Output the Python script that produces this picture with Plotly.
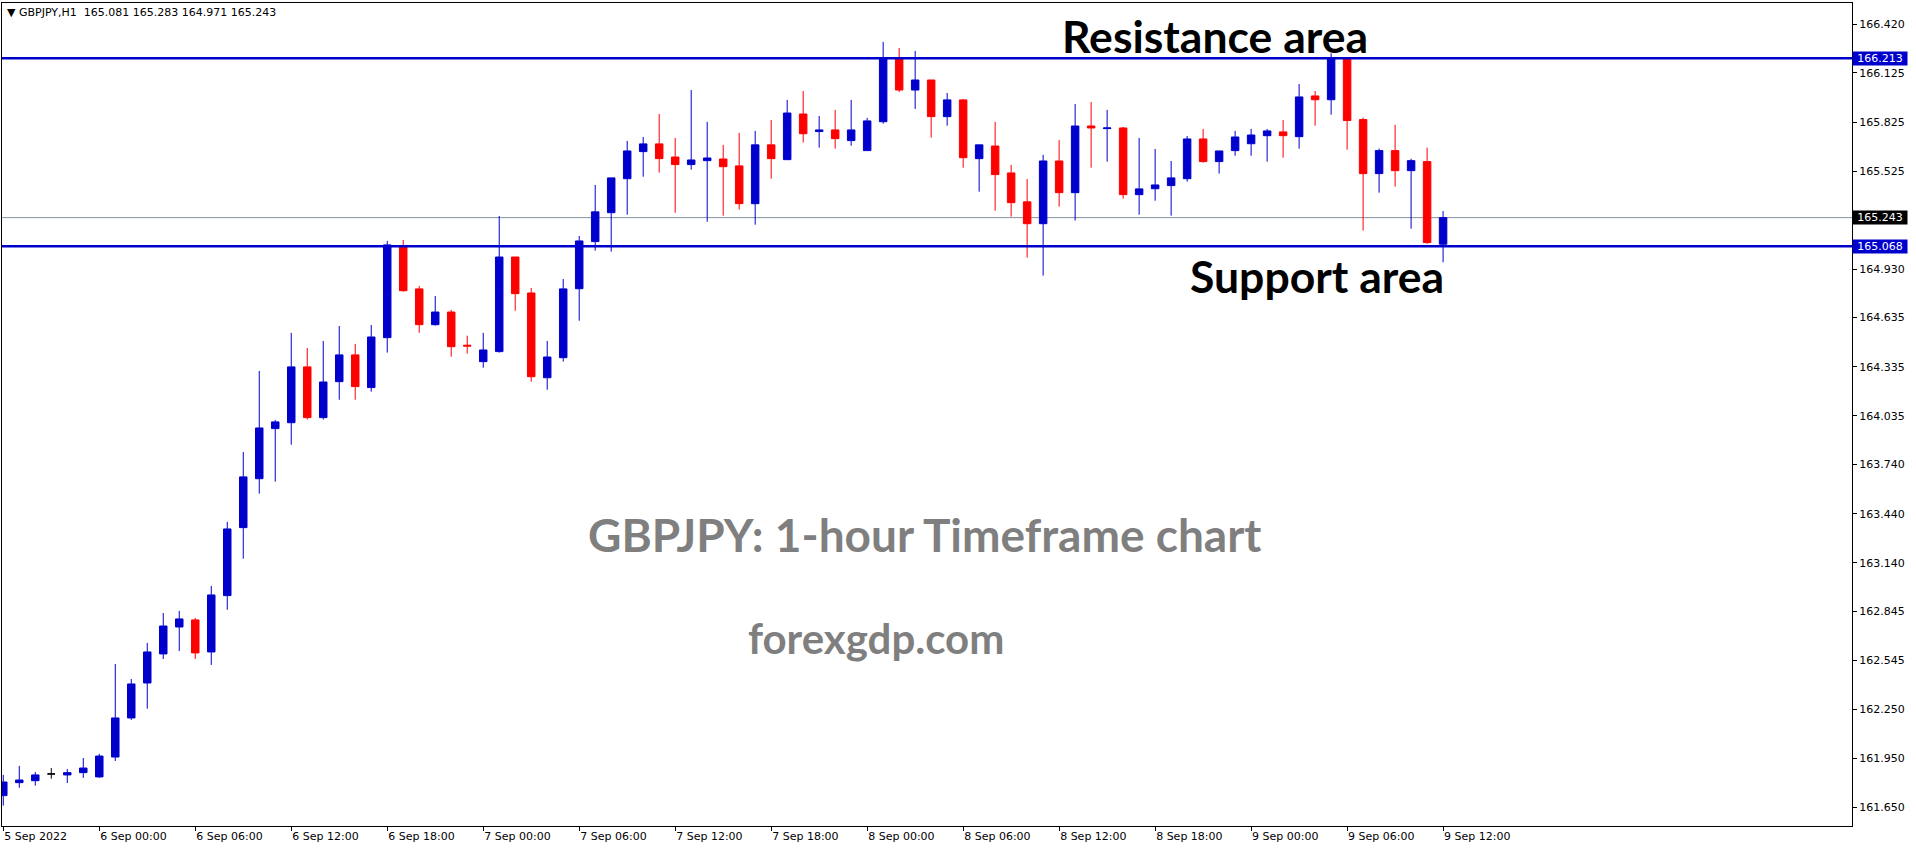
import pandas as pd
import plotly.graph_objects as go

symbol = "GBPJPY,H1"
times = pd.date_range("2022-09-05 18:00", periods=91, freq="h")

open_ = [161.723, 161.802, 161.814, 161.855, 161.849, 161.863, 161.837, 161.958, 162.196, 162.409,
         162.586, 162.750, 162.793, 162.598, 162.941, 163.355, 163.653, 163.958, 163.994, 164.334,
         164.025, 164.244, 164.407, 164.208, 164.512, 165.070, 164.809, 164.591, 164.668, 164.466,
         164.366, 164.427, 165.003, 164.784, 164.268, 164.390, 164.810, 165.097, 165.273, 165.480,
         165.645, 165.692, 165.612, 165.566, 165.590, 165.600, 165.558, 165.328, 165.686, 165.596,
         165.874, 165.767, 165.777, 165.712, 165.651, 165.827, 166.214, 166.020, 166.081, 165.858,
         165.960, 165.602, 165.679, 165.515, 165.339, 165.206, 165.588, 165.395, 165.801, 165.785,
         165.789, 165.383, 165.419, 165.438, 165.480, 165.722, 165.584, 165.651, 165.693, 165.742,
         165.765, 165.736, 165.984, 165.961, 166.214, 165.840, 165.511, 165.651, 165.529, 165.584,
         165.081]
high = [161.849, 161.904, 161.867, 161.891, 161.885, 161.952, 161.977, 162.525, 162.433, 162.653,
        162.835, 162.848, 162.805, 163.000, 163.390, 163.816, 164.309, 164.011, 164.541, 164.449,
        164.492, 164.583, 164.474, 164.589, 165.101, 165.107, 164.827, 164.766, 164.681, 164.524,
        164.541, 165.253, 165.003, 164.815, 164.492, 164.869, 165.131, 165.442, 165.485, 165.710,
        165.734, 165.874, 165.728, 166.020, 165.826, 165.686, 165.759, 165.771, 165.838, 165.960,
        166.014, 165.862, 165.899, 165.960, 165.850, 166.313, 166.276, 166.258, 166.081, 166.002,
        165.966, 165.686, 165.826, 165.564, 165.478, 165.625, 165.716, 165.935, 165.947, 165.899,
        165.795, 165.728, 165.661, 165.588, 165.740, 165.783, 165.649, 165.771, 165.783, 165.783,
        165.838, 166.057, 166.014, 166.244, 166.214, 165.852, 165.663, 165.809, 165.602, 165.669,
        165.283]
low = [161.662, 161.771, 161.784, 161.826, 161.800, 161.831, 161.831, 161.934, 162.184, 162.253,
       162.555, 162.604, 162.555, 162.519, 162.855, 163.166, 163.562, 163.635, 163.860, 164.013,
       164.013, 164.134, 164.134, 164.183, 164.421, 164.792, 164.542, 164.585, 164.396, 164.415,
       164.329, 164.421, 164.676, 164.244, 164.195, 164.366, 164.615, 165.042, 165.036, 165.261,
       165.492, 165.517, 165.273, 165.535, 165.218, 165.255, 165.292, 165.200, 165.480, 165.596,
       165.700, 165.669, 165.663, 165.681, 165.651, 165.815, 166.008, 165.905, 165.730, 165.803,
       165.547, 165.401, 165.285, 165.249, 164.999, 164.890, 165.310, 165.225, 165.547, 165.584,
       165.359, 165.261, 165.346, 165.255, 165.462, 165.578, 165.511, 165.620, 165.620, 165.584,
       165.608, 165.663, 165.803, 165.870, 165.657, 165.164, 165.395, 165.432, 165.176, 165.084,
       164.971]
close = [161.806, 161.818, 161.849, 161.855, 161.863, 161.891, 161.964, 162.196, 162.403, 162.598,
         162.756, 162.799, 162.592, 162.945, 163.347, 163.664, 163.962, 163.999, 164.334, 164.025,
         164.242, 164.407, 164.214, 164.516, 165.077, 164.798, 164.591, 164.668, 164.457, 164.461,
         164.437, 165.003, 164.780, 164.274, 164.394, 164.809, 165.101, 165.278, 165.485, 165.649,
         165.692, 165.602, 165.566, 165.594, 165.606, 165.553, 165.328, 165.686, 165.602, 165.880,
         165.754, 165.777, 165.724, 165.777, 165.832, 166.215, 166.020, 166.081, 165.858, 165.960,
         165.608, 165.686, 165.505, 165.334, 165.206, 165.588, 165.395, 165.801, 165.789, 165.789,
         165.383, 165.418, 165.442, 165.485, 165.722, 165.584, 165.649, 165.734, 165.746, 165.771,
         165.742, 165.978, 165.961, 166.215, 165.834, 165.511, 165.651, 165.529, 165.590, 165.091,
         165.243]

resistance = 166.213
support = 165.068

y_tickvals = [166.420, 166.125, 165.825, 165.525, 165.230, 164.930, 164.635, 164.335, 164.035,
              163.740, 163.440, 163.140, 162.845, 162.545, 162.250, 161.950, 161.650]
y_ticktext = ["166.420", "166.125", "165.825", "165.525", "", "164.930", "164.635", "164.335",
              "164.035", "163.740", "163.440", "163.140", "162.845", "162.545", "162.250",
              "161.950", "161.650"]

x_tickvals = ["2022-09-05 18:00", "2022-09-06 00:00", "2022-09-06 06:00", "2022-09-06 12:00",
              "2022-09-06 18:00", "2022-09-07 00:00", "2022-09-07 06:00", "2022-09-07 12:00",
              "2022-09-07 18:00", "2022-09-08 00:00", "2022-09-08 06:00", "2022-09-08 12:00",
              "2022-09-08 18:00", "2022-09-09 00:00", "2022-09-09 06:00", "2022-09-09 12:00"]
x_ticktext = ["5 Sep 2022", "6 Sep 00:00", "6 Sep 06:00", "6 Sep 12:00", "6 Sep 18:00",
              "7 Sep 00:00", "7 Sep 06:00", "7 Sep 12:00", "7 Sep 18:00", "8 Sep 00:00",
              "8 Sep 06:00", "8 Sep 12:00", "8 Sep 18:00", "9 Sep 00:00", "9 Sep 06:00",
              "9 Sep 12:00"]

BLUE = "#0000CD"
RED = "#FF0000"

main_idx = [i for i in range(len(open_)) if open_[i] != close[i]]
doji_idx = [i for i in range(len(open_)) if open_[i] == close[i]]

def pick(arr, idx):
    return [arr[i] for i in idx]

fig = go.Figure()
fig.add_trace(go.Candlestick(
    x=pick(times, main_idx), open=pick(open_, main_idx), high=pick(high, main_idx),
    low=pick(low, main_idx), close=pick(close, main_idx),
    increasing=dict(line=dict(color=BLUE, width=1), fillcolor=BLUE),
    decreasing=dict(line=dict(color=RED, width=1), fillcolor=RED),
    showlegend=False, hoverinfo="skip",
))
fig.add_trace(go.Candlestick(
    x=pick(times, doji_idx), open=pick(open_, doji_idx), high=pick(high, doji_idx),
    low=pick(low, doji_idx), close=pick(close, doji_idx),
    increasing=dict(line=dict(color="black", width=1), fillcolor="black"),
    decreasing=dict(line=dict(color="black", width=1), fillcolor="black"),
    showlegend=False, hoverinfo="skip",
))

# horizontal levels
fig.add_shape(type="line", xref="paper", x0=0, x1=1, yref="y", y0=close[-1], y1=close[-1],
              line=dict(color="#8592a0", width=1), layer="below")
for lvl in (resistance, support):
    fig.add_shape(type="line", xref="paper", x0=0, x1=1, yref="y", y0=lvl, y1=lvl,
                  line=dict(color=BLUE, width=2.5))

# right-side price labels
for lvl, bg in ((resistance, BLUE), (close[-1], "black"), (support, BLUE)):
    fig.add_annotation(xref="paper", x=1, xanchor="left", yref="y", y=lvl, yanchor="middle",
                       text=f"{lvl:.3f}", showarrow=False, bgcolor=bg, width=54, height=13,
                       borderpad=0, font=dict(family="DejaVu Sans", size=11, color="white"))

# header
fig.add_annotation(xref="paper", x=0.0016, xanchor="left", yref="paper", y=0.989, yanchor="middle",
                   text=f"\u25BC {symbol}\u00a0\u00a0{open_[-1]:.3f} {high[-1]:.3f} {low[-1]:.3f} {close[-1]:.3f}",
                   showarrow=False, font=dict(family="DejaVu Sans", size=11, color="black"))

# texts
def label(x, y, text, size, color):
    fig.add_annotation(xref="paper", x=x, xanchor="center", yref="paper", y=y, yanchor="middle",
                       text=f"<b>{text}</b>", showarrow=False,
                       font=dict(family="Lato", size=size, color=color))

label(0.6557, 0.9611, "Resistance area", 44.5, "black")
label(0.7108, 0.6683, "Support area", 44.5, "black")
label(0.4989, 0.3536, "GBPJPY: 1-hour Timeframe chart", 46, "#7f7f7f")
label(0.4724, 0.2284, "forexgdp.com", 42, "#7f7f7f")

fig.update_layout(
    width=1916, height=850,
    margin=dict(l=2, r=64, t=3, b=24),
    paper_bgcolor="white", plot_bgcolor="white",
    boxgap=0.33,
    showlegend=False,
    xaxis=dict(
        type="date", range=["2022-09-05 17:55:12", "2022-09-10 13:33:36"],
        rangeslider=dict(visible=False),
        tickvals=x_tickvals, ticktext=x_ticktext, ticklabelposition="outside right",
        ticks="outside", ticklen=4, tickcolor="black", tickwidth=1,
        showgrid=False, zeroline=False, showline=True, mirror=True,
        linecolor="black", linewidth=1, automargin=False,
        tickfont=dict(family="DejaVu Sans", size=11, color="black"),
    ),
    yaxis=dict(
        side="right", range=[161.538, 166.550],
        tickvals=y_tickvals, ticktext=y_ticktext,
        ticks="outside", ticklen=4, tickcolor="black", tickwidth=1,
        showgrid=False, zeroline=False, showline=True, mirror=True,
        linecolor="black", linewidth=1, automargin=False,
        tickfont=dict(family="DejaVu Sans", size=11, color="black"),
    ),
)

fig.write_html("out.html", config={"displayModeBar": False},
               post_script="document.body.style.margin='0px';")
